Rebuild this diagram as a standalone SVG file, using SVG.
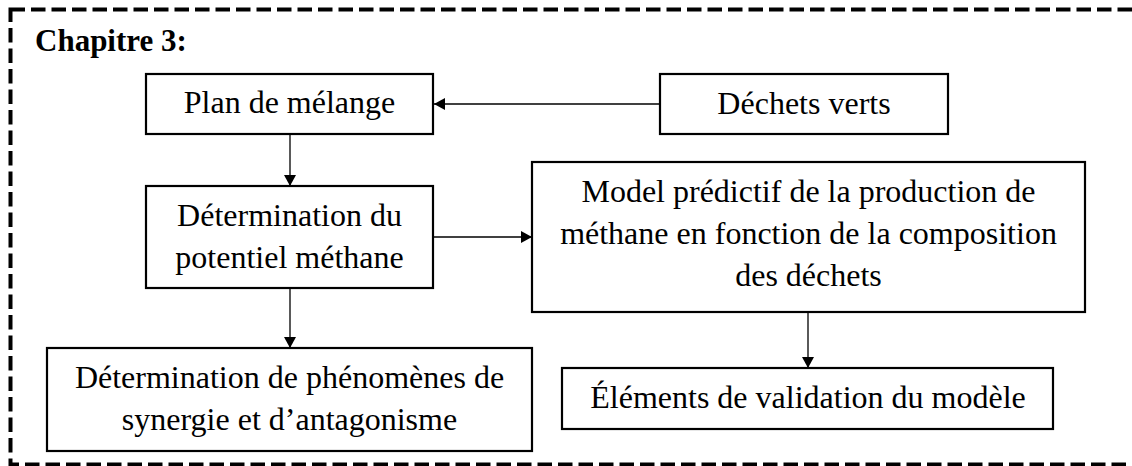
<svg xmlns="http://www.w3.org/2000/svg" width="1132" height="466" viewBox="0 0 1132 466">
  <style>
    .box { fill: #ffffff; stroke: #000000; stroke-width: 2.2; }
    .lbl { font-family: "Liberation Serif", "Times New Roman", serif; font-size: 32px; fill: #000000; text-anchor: middle; }
    .title { font-family: "Liberation Serif", "Times New Roman", serif; font-size: 31px; font-weight: bold; fill: #000000; }
    .conn { stroke: #000000; stroke-width: 1.3; fill: none; marker-end: url(#arrow); }
    .frame { fill: none; stroke: #000000; stroke-width: 4; stroke-dasharray: 14.5 6; }
  </style>
  <defs>
    <marker id="arrow" markerUnits="userSpaceOnUse" markerWidth="11" markerHeight="12" refX="11" refY="6" orient="auto">
      <path d="M0,0 L11,6 L0,12 Z" fill="#000000"/>
    </marker>
  </defs>
  <rect width="1132" height="466" fill="#ffffff"/>
  <rect class="frame" x="10.5" y="9.5" width="1140" height="455"/>
  <text class="title" x="35" y="51">Chapitre 3:</text>

  <g id="connectors">
    <line class="conn" x1="660" y1="104" x2="434" y2="104"/>
    <line class="conn" x1="290" y1="134" x2="290" y2="186"/>
    <line class="conn" x1="433" y1="237" x2="532" y2="237"/>
    <line class="conn" x1="290" y1="288" x2="290" y2="348"/>
    <line class="conn" x1="808" y1="312" x2="808" y2="368"/>
  </g>

  <g id="plan">
    <rect class="box" x="146" y="74" width="287" height="60"/>
    <text class="lbl" x="289.5" y="113">Plan de mélange</text>
  </g>
  <g id="dechets">
    <rect class="box" x="660" y="74" width="288" height="60"/>
    <text class="lbl" x="804" y="114">Déchets verts</text>
  </g>
  <g id="determination">
    <rect class="box" x="146" y="186" width="287" height="102"/>
    <text class="lbl" x="289.5" y="226">Détermination du</text>
    <text class="lbl" x="289.5" y="268">potentiel méthane</text>
  </g>
  <g id="model">
    <rect class="box" x="532" y="162" width="553" height="150"/>
    <text class="lbl" x="808.5" y="202">Model prédictif de la production de</text>
    <text class="lbl" x="808.5" y="244">méthane en fonction de la composition</text>
    <text class="lbl" x="808.5" y="286">des déchets</text>
  </g>
  <g id="synergie">
    <rect class="box" x="47" y="348" width="485" height="103"/>
    <text class="lbl" x="289.5" y="388">Détermination de phénomènes de</text>
    <text class="lbl" x="289.5" y="430">synergie et d’antagonisme</text>
  </g>
  <g id="validation">
    <rect class="box" x="562" y="368" width="491" height="61"/>
    <text class="lbl" x="808" y="408">Éléments de validation du modèle</text>
  </g>
</svg>
